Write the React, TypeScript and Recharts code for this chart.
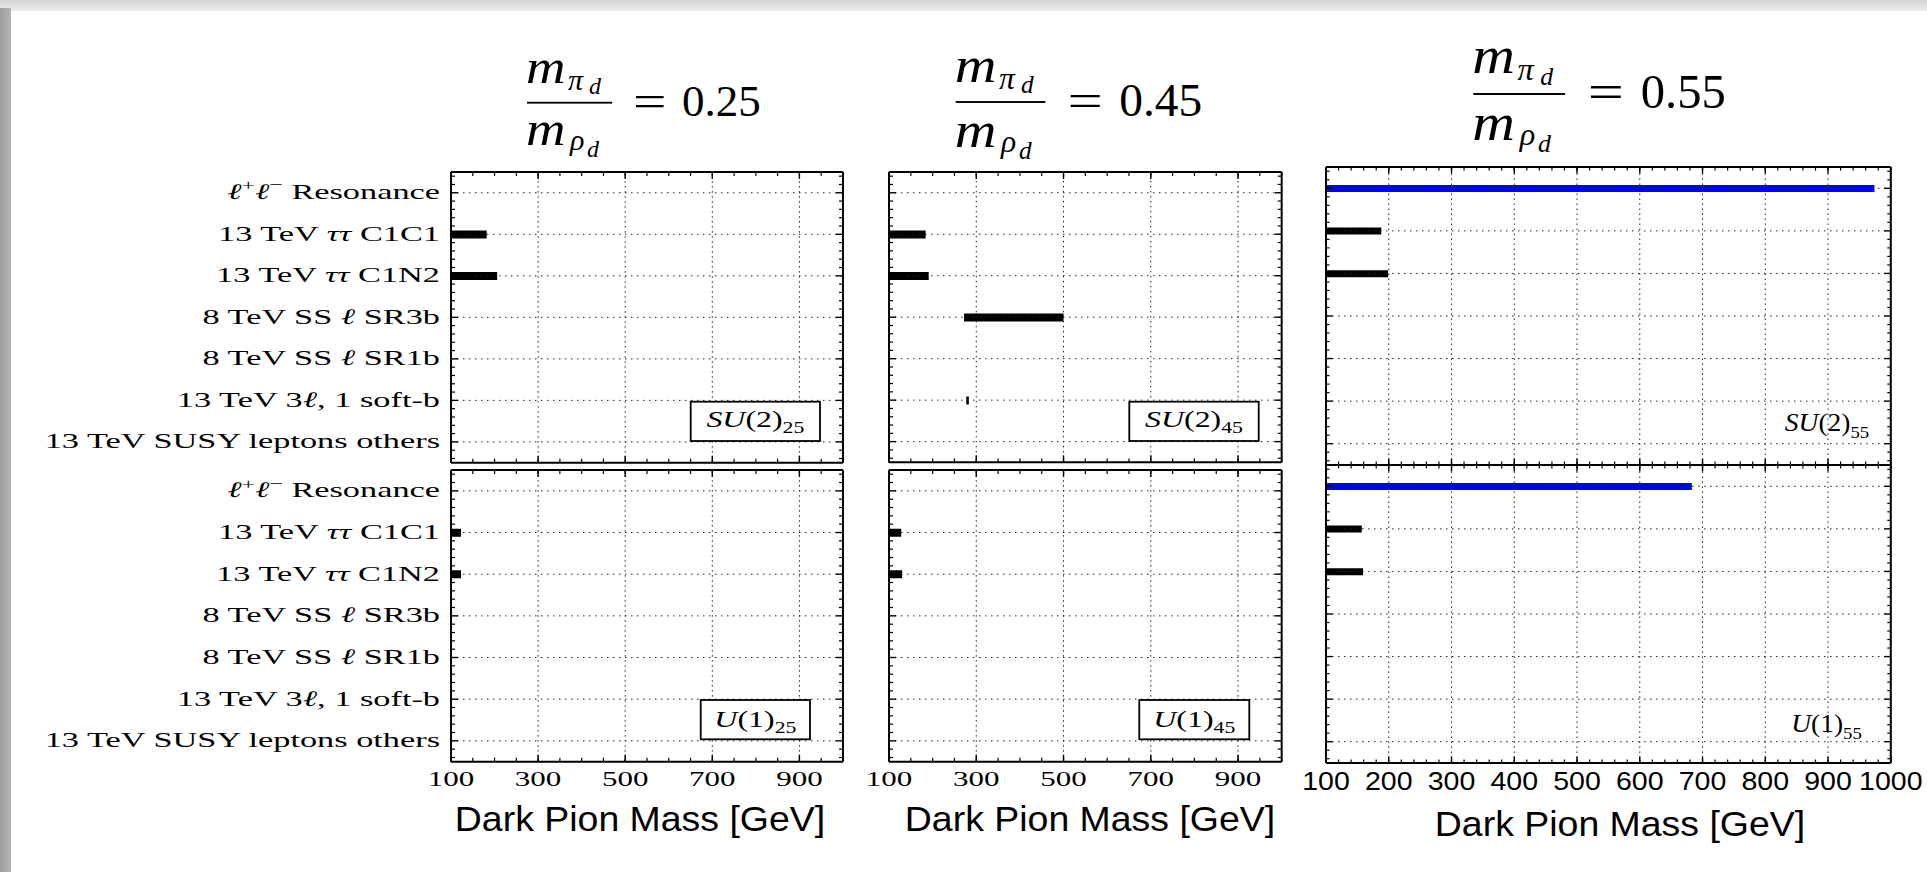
import React from 'react';
import { BarChart, Bar, XAxis, YAxis, Cell, ReferenceLine } from 'recharts';

// ---------------- data ----------------
const channels = [
  'ℓ⁺ℓ⁻ Resonance',
  '13 TeV ττ C1C1',
  '13 TeV ττ C1N2',
  '8 TeV SS ℓ SR3b',
  '8 TeV SS ℓ SR1b',
  '13 TeV 3ℓ, 1 soft-b',
  '13 TeV SUSY leptons others',
];

type Range = [number, number] | null;

// excluded dark pion mass intervals [low, high] in GeV (null = no exclusion)
const su2_25: Range[] = [null, [100, 182], [100, 206], null, null, null, null];
const u1_25: Range[] = [null, [100, 123], [100, 123], null, null, null, null];
const su2_45: Range[] = [null, [100, 184], [100, 191], [272, 500], null, [277, 283], null];
const u1_45: Range[] = [null, [100, 128], [100, 130], null, null, null, null];
const su2_55: Range[] = [[100, 974], [100, 188], [100, 199], null, null, null, null];
const u1_55: Range[] = [[100, 683], [100, 157], [100, 159], null, null, null, null];

const channelColors = ['#0000ff', '#000000', '#000000', '#000000', '#000000', '#000000', '#000000'];

const massDomain: [number, number] = [100, 1000];
const majorTicksOdd = [100, 300, 500, 700, 900];
const majorTicksAll = [100, 200, 300, 400, 500, 600, 700, 800, 900, 1000];
const minorTicks50 = Array.from({ length: 19 }, (_, i) => 100 + 50 * i);
const minorTicks20 = Array.from({ length: 46 }, (_, i) => 100 + 20 * i);

const ratioValues = ['0.25', '0.45', '0.55'];
const axisTitle = 'Dark Pion Mass [GeV]';

// ---------------- helpers ----------------
const SERIF = 'Liberation Serif, Times New Roman, serif';
const SANS = 'Liberation Sans, Arial, sans-serif';
const AX = 0.01; // near-zero axis thickness

type Tok = { t: string; it: boolean; sup: boolean };
function tokenize(s: string): Tok[] {
  const toks: Tok[] = [];
  for (const ch of Array.from(s)) {
    const sup = ch === '⁺' || ch === '⁻';
    const it = ch === 'τ' || ch === 'ℓ';
    const t = ch === '⁺' ? '+' : ch === '⁻' ? '−' : ch;
    const last = toks[toks.length - 1];
    if (last && last.it === it && last.sup === sup) last.t += t;
    else toks.push({ t, it, sup });
  }
  return toks;
}

function richSpans(s: string, fs: number) {
  let cur = 0;
  return tokenize(s).map((k, i) => {
    const target = k.sup ? -0.4 * fs : 0;
    const dy = target - cur;
    cur = target;
    return (
      <tspan key={i} dy={dy} fontStyle={k.it ? 'italic' : 'normal'} fontSize={k.sup ? fs * 0.7 : fs}>
        {k.t}
      </tspan>
    );
  });
}

type LabelStyle = { font: string; size: number; sx: number; dy: number };

// empty tick content: keeps the axis tick lines, draws no label
const noLabel = () => <g />;

function makeXLabel(label: LabelStyle) {
  return (props: any) => {
    const { x, y, payload } = props;
    return (
      <text
        transform={`translate(${x},${y + label.dy}) scale(${label.sx},1)`}
        textAnchor="middle"
        fontFamily={label.font}
        fontSize={label.size}
        fill="#000"
      >
        {payload.value}
      </text>
    );
  };
}

// y-side tick renderer: minor ticks within each row band (+ optional channel name)
function makeYTick(side: 'left' | 'right', bandPx: number, minorLen: number, withName: boolean) {
  return (props: any) => {
    const { x, y, payload } = props;
    const dir = side === 'left' ? 1 : -1;
    const offs = [-2, -1, 1, 2].map((k) => (k * bandPx) / 5);
    return (
      <g>
        {offs.map((o, i) => (
          <line key={i} x1={x} x2={x + dir * minorLen} y1={y + o} y2={y + o} stroke="#000" strokeWidth={1.2} />
        ))}
        {withName ? (
          <text
            transform={`translate(${x - 11},${y + 6.5}) scale(1.56,1)`}
            textAnchor="end"
            fontFamily={SERIF}
            fontSize={22}
            fill="#000"
          >
            {richSpans(String(payload.value), 22)}
          </text>
        ) : null}
      </g>
    );
  };
}

const frameLine = { stroke: '#000', strokeWidth: 2 };
const majorTickLine = { stroke: '#000', strokeWidth: 1.4 };
const minorTickLine = { stroke: '#000', strokeWidth: 1.2 };
const gridStyle = { stroke: '#222', strokeWidth: 1 };

type Rect = { left: number; top: number; right: number; bottom: number };
type Margin = { top: number; right: number; bottom: number; left: number };

interface PanelProps {
  ranges: Range[];
  rect: Rect;
  margin: Margin;
  showNames: boolean;
  tickLabel?: LabelStyle;
  majorTicks: number[];
  minorTicks: number[];
  barSize: number;
  majorLen: number;
  minorLen: number;
}

function Panel(p: PanelProps) {
  const data = channels.map((name, i) => ({ name, range: p.ranges[i] }));
  const width = p.rect.right - p.rect.left + p.margin.left + p.margin.right;
  const height = p.rect.bottom - p.rect.top + p.margin.top + p.margin.bottom;
  const bandPx = (p.rect.bottom - p.rect.top) / channels.length;
  return (
    <div
      style={{
        position: 'absolute',
        left: p.rect.left - p.margin.left,
        top: p.rect.top - p.margin.top,
        width,
        height,
      }}
    >
      <BarChart width={width} height={height} data={data} layout="vertical" margin={p.margin}>
        <Bar dataKey="range" barSize={p.barSize} isAnimationActive={false}>
          {data.map((_, i) => (
            <Cell key={i} fill={channelColors[i]} />
          ))}
        </Bar>
        {p.majorTicks.map((v) => (
          <ReferenceLine key={`vx${v}`} x={v} {...gridStyle} strokeDasharray="1.5 3.5" />
        ))}
        {channels.map((c) => (
          <ReferenceLine key={`hy${c}`} y={c} {...gridStyle} strokeDasharray="1.5 4.5" />
        ))}
        <XAxis
          type="number"
          domain={massDomain}
          ticks={p.majorTicks}
          orientation="bottom"
          height={AX}
          tickSize={-p.majorLen}
          tickMargin={p.majorLen}
          tickLine={majorTickLine}
          axisLine={frameLine}
          interval={0}
          allowDataOverflow
          tick={p.tickLabel ? makeXLabel(p.tickLabel) : noLabel}
        />
        <XAxis
          xAxisId="bm"
          type="number"
          domain={massDomain}
          ticks={p.minorTicks}
          orientation="bottom"
          height={AX}
          tickSize={-p.minorLen}
          tickMargin={0}
          tickLine={minorTickLine}
          axisLine={false}
          interval={0}
          allowDataOverflow
          tick={noLabel}
        />
        <XAxis
          xAxisId="t"
          type="number"
          domain={massDomain}
          ticks={p.majorTicks}
          orientation="top"
          height={AX}
          tickSize={-p.majorLen}
          tickMargin={0}
          tickLine={majorTickLine}
          axisLine={frameLine}
          interval={0}
          allowDataOverflow
          tick={noLabel}
        />
        <XAxis
          xAxisId="tm"
          type="number"
          domain={massDomain}
          ticks={p.minorTicks}
          orientation="top"
          height={AX}
          tickSize={-p.minorLen}
          tickMargin={0}
          tickLine={minorTickLine}
          axisLine={false}
          interval={0}
          allowDataOverflow
          tick={noLabel}
        />
        <YAxis
          type="category"
          dataKey="name"
          orientation="left"
          width={AX}
          tickSize={-p.majorLen}
          tickMargin={p.majorLen}
          tickLine={majorTickLine}
          axisLine={frameLine}
          interval={0}
          tick={makeYTick('left', bandPx, p.minorLen, p.showNames)}
        />
        <YAxis
          yAxisId="r"
          type="category"
          dataKey="name"
          orientation="right"
          width={AX}
          tickSize={-p.majorLen}
          tickMargin={p.majorLen}
          tickLine={majorTickLine}
          axisLine={frameLine}
          interval={0}
          tick={makeYTick('right', bandPx, p.minorLen, false)}
        />
      </BarChart>
    </div>
  );
}

function RatioTitle({ x, y, s, value }: { x: number; y: number; s: number; value: string }) {
  return (
    <g transform={`translate(${x},${y}) scale(${s})`} fontFamily={SERIF} fill="#000">
      <text transform="translate(-1,-19.4) scale(1.14,1)" fontSize={48} fontStyle="italic">
        m
      </text>
      <text x={41} y={-12.7} fontSize={30} fontStyle="italic">
        π
      </text>
      <text x={62} y={-8.4} fontSize={24} fontStyle="italic">
        d
      </text>
      <rect x={0} y={-0.9} width={85} height={1.8} fill="#000" />
      <text transform="translate(-1,42.3) scale(1.14,1)" fontSize={48} fontStyle="italic">
        m
      </text>
      <text x={43} y={47.3} fontSize={30} fontStyle="italic">
        ρ
      </text>
      <text x={60} y={54} fontSize={24} fontStyle="italic">
        d
      </text>
      <text transform="translate(106,13.3) scale(1.35,1)" fontSize={44}>
        =
      </text>
      <text x={155} y={13.3} fontSize={45}>
        {value}
      </text>
    </g>
  );
}

function GroupLabel({
  cx,
  baseline,
  main,
  sub,
  fs,
  sx,
  box,
}: {
  cx: number;
  baseline: number;
  main: string;
  sub: string;
  fs: number;
  sx: number;
  box?: { x: number; y: number; w: number; h: number };
}) {
  const parts = Array.from(main);
  return (
    <g>
      {box ? (
        <rect x={box.x} y={box.y} width={box.w} height={box.h} fill="#fff" stroke="#000" strokeWidth={1.8} />
      ) : null}
      <text
        transform={`translate(${cx},${baseline}) scale(${sx},1)`}
        textAnchor="middle"
        fontFamily={SERIF}
        fontSize={fs}
        fill="#000"
      >
        {parts.map((ch, i) => (
          <tspan key={i} fontStyle={/[A-Z]/.test(ch) ? 'italic' : 'normal'}>
            {ch}
          </tspan>
        ))}
        <tspan dy={fs * 0.28} fontSize={fs * 0.68}>
          {sub}
        </tspan>
      </text>
    </g>
  );
}

// ---------------- layout ----------------
const P1U: Rect = { left: 451, top: 172.3, right: 843, bottom: 463 };
const P1L: Rect = { left: 451, top: 470, right: 843, bottom: 761.7 };
const P2U: Rect = { left: 889.3, top: 172.3, right: 1282, bottom: 462.7 };
const P2L: Rect = { left: 889.3, top: 470, right: 1282, bottom: 761.7 };
const P3U: Rect = { left: 1326.4, top: 167.3, right: 1891.2, bottom: 465.3 };
const P3L: Rect = { left: 1326.4, top: 465.3, right: 1891.2, bottom: 763.3 };

const cmTickLabel: LabelStyle = { font: SERIF, size: 22, sx: 1.41, dy: 24 };
const sansTickLabel: LabelStyle = { font: SANS, size: 25.5, sx: 1.12, dy: 27.5 };

export default function App() {
  return (
    <div
      style={{
        position: 'absolute',
        left: 0,
        top: 0,
        width: 1927,
        height: 872,
        overflow: 'hidden',
        background: '#fff',
      }}
    >
      <div
        style={{
          position: 'absolute',
          left: 0,
          top: 0,
          width: 1927,
          height: 11,
          background: 'linear-gradient(to bottom, #d4d4d4, #ececec)',
        }}
      />
      <div
        style={{
          position: 'absolute',
          left: 0,
          top: 8,
          width: 11,
          height: 864,
          background: 'linear-gradient(to right, #9c9ea1, #b4b6b8)',
        }}
      />

      <Panel
        ranges={su2_25}
        rect={P1U}
        margin={{ top: 12, right: 12, bottom: 10, left: 450 }}
        showNames
        majorTicks={majorTicksOdd}
        minorTicks={minorTicks50}
        barSize={8}
        majorLen={7}
        minorLen={4}
      />
      <Panel
        ranges={u1_25}
        rect={P1L}
        margin={{ top: 10, right: 12, bottom: 40, left: 450 }}
        showNames
        tickLabel={cmTickLabel}
        majorTicks={majorTicksOdd}
        minorTicks={minorTicks50}
        barSize={8}
        majorLen={7}
        minorLen={4}
      />
      <Panel
        ranges={su2_45}
        rect={P2U}
        margin={{ top: 12, right: 12, bottom: 10, left: 25 }}
        showNames={false}
        majorTicks={majorTicksOdd}
        minorTicks={minorTicks50}
        barSize={8}
        majorLen={7}
        minorLen={4}
      />
      <Panel
        ranges={u1_45}
        rect={P2L}
        margin={{ top: 10, right: 12, bottom: 40, left: 25 }}
        showNames={false}
        tickLabel={cmTickLabel}
        majorTicks={majorTicksOdd}
        minorTicks={minorTicks50}
        barSize={8}
        majorLen={7}
        minorLen={4}
      />
      <Panel
        ranges={su2_55}
        rect={P3U}
        margin={{ top: 12, right: 34, bottom: 10, left: 25 }}
        showNames={false}
        majorTicks={majorTicksAll}
        minorTicks={minorTicks20}
        barSize={7}
        majorLen={6.5}
        minorLen={3.5}
      />
      <Panel
        ranges={u1_55}
        rect={P3L}
        margin={{ top: 10, right: 34, bottom: 40, left: 25 }}
        showNames={false}
        tickLabel={sansTickLabel}
        majorTicks={majorTicksAll}
        minorTicks={minorTicks20}
        barSize={7}
        majorLen={6.5}
        minorLen={3.5}
      />

      <svg
        width={1927}
        height={872}
        style={{ position: 'absolute', left: 0, top: 0, pointerEvents: 'none' }}
      >
        <RatioTitle x={527} y={102.7} s={1} value={ratioValues[0]} />
        <RatioTitle x={955.7} y={102} s={1.055} value={ratioValues[1]} />
        <RatioTitle x={1473.3} y={94} s={1.08} value={ratioValues[2]} />

        <GroupLabel
          cx={P1U.right - 23 - 64.65}
          baseline={P1U.bottom - 36.3}
          main="SU(2)"
          sub="25"
          fs={24}
          sx={1.33}
          box={{ x: P1U.right - 23 - 129.3, y: P1U.bottom - 22 - 39.3, w: 129.3, h: 39.3 }}
        />
        <GroupLabel
          cx={P1L.right - 33 - 54.65}
          baseline={P1L.bottom - 35}
          main="U(1)"
          sub="25"
          fs={24}
          sx={1.33}
          box={{ x: P1L.right - 33 - 109.3, y: P1L.bottom - 22.4 - 39.3, w: 109.3, h: 39.3 }}
        />
        <GroupLabel
          cx={P2U.right - 23.3 - 64.7}
          baseline={P2U.bottom - 36}
          main="SU(2)"
          sub="45"
          fs={24}
          sx={1.33}
          box={{ x: P2U.right - 23.3 - 129.4, y: P2U.bottom - 21.7 - 39.3, w: 129.4, h: 39.3 }}
        />
        <GroupLabel
          cx={P2L.right - 32.7 - 55}
          baseline={P2L.bottom - 35}
          main="U(1)"
          sub="45"
          fs={24}
          sx={1.33}
          box={{ x: P2L.right - 32.7 - 110, y: P2L.bottom - 22.4 - 39.3, w: 110, h: 39.3 }}
        />
        <GroupLabel cx={1827} baseline={430.7} main="SU(2)" sub="55" fs={25} sx={1.1} />
        <GroupLabel cx={1826.5} baseline={731.7} main="U(1)" sub="55" fs={25} sx={1.1} />

        {[
          { cx: 640, y: 831 },
          { cx: 1090, y: 831 },
          { cx: 1620, y: 836 },
        ].map((t, i) => (
          <text
            key={i}
            transform={`translate(${t.cx},${t.y}) scale(1.07,1)`}
            textAnchor="middle"
            fontFamily={SANS}
            fontSize={35}
            fill="#000"
          >
            {axisTitle}
          </text>
        ))}
      </svg>
    </div>
  );
}
